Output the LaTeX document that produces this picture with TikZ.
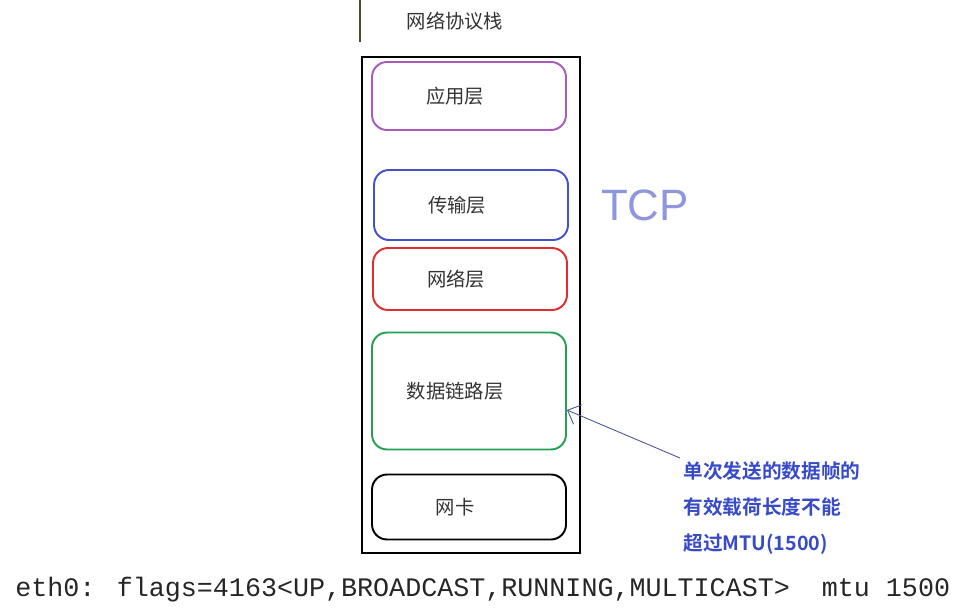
\documentclass[tikz,border=0pt]{standalone}
\usepackage{fontspec}
\setmainfont{Liberation Sans}
\newfontfamily\cjk{Noto Sans CJK SC}[BoldFont={Noto Sans CJK SC Bold}]
\newfontfamily\monofont{Liberation Mono}
\usetikzlibrary{positioning,arrows.meta}

\definecolor{appc}{RGB}{170,90,185}
\definecolor{tranc}{RGB}{70,80,200}
\definecolor{netc}{RGB}{225,45,45}
\definecolor{linkc}{RGB}{35,160,85}
\definecolor{notec}{RGB}{55,75,200}
\definecolor{arrowc}{RGB}{75,85,150}

\begin{document}
\begin{tikzpicture}[
  x=0.02cm, y=-0.02cm,
  lbl/.style={font=\cjk\fontsize{11}{13}\selectfont, text=black!80, inner sep=1pt},
  layer/.style={draw, rounded corners=0.3cm, line width=1.1pt, minimum width=3.88cm,
    inner sep=0pt, label={[lbl, xshift=-0.28cm]center:#1}},
  stackbox/.style={draw=black, line width=1.4pt, minimum width=4.36cm, minimum height=9.92cm, inner sep=0pt},
  note/.style={font=\cjk\bfseries\fontsize{11.2}{20.5}\selectfont, text=notec, align=left, inner sep=0pt},
  pointer/.style={draw=arrowc, line width=0.5pt, -{Straight Barb[length=2.2mm, width=4.2mm]}}
]
\useasboundingbox (0,0) rectangle (955,614);

% stack frame and title
\draw[black!60!olive, line width=1pt] (360,0) -- (360,42);
\node[lbl] (title) at (455,21) {网络协议栈};
\node[stackbox] (stack) at (471,305) {};

% layers
\node[layer=应用层, draw=appc, minimum height=1.36cm] (app) at (469,96) {};
\node[layer=传输层, draw=tranc, minimum height=1.40cm] (trans) at (471,205) {};
\node[layer=网络层, draw=netc, minimum height=1.24cm] (net) at (470,279) {};
\node[layer=数据链路层, draw=linkc, minimum height=2.34cm] (link) at (469,391) {};
\node[layer=网卡, draw=black, minimum height=1.30cm] (nic) at (469,507) {};

% handwritten TCP
\node[font=\fontsize{25}{28}\selectfont, text=tranc!60] (tcp) at (645,205) {TCP};

% MTU note
\node[note, anchor=north west] (mtu) at (683,461) {单次发送的数据帧的\\有效载荷长度不能\\超过MTU(1500)};
\coordinate (tail) at (680,458);
\draw[pointer] (tail) -- ([yshift=-0.38cm]link.east);

% ifconfig line
\node[font=\monofont\fontsize{15.2}{18}\selectfont, text=black!85, anchor=west, inner sep=0pt] (cmd) at (15,590) {eth0: flags=4163<UP,BROADCAST,RUNNING,MULTICAST>\ \ mtu 1500};

\end{tikzpicture}
\end{document}
